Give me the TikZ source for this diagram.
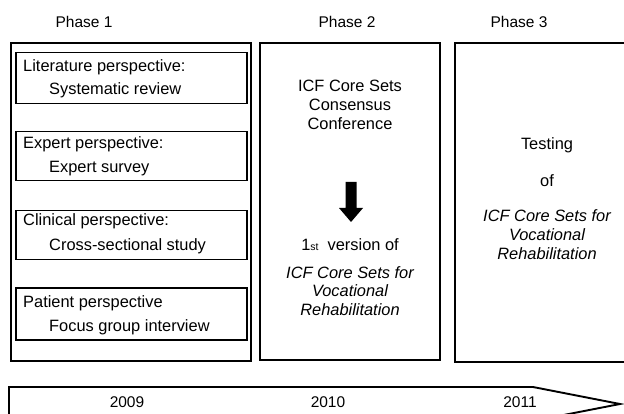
\documentclass[tikz,border=0pt]{standalone}
\usepackage{fontspec}
\setmainfont{Liberation Sans}
\begin{document}
\begin{tikzpicture}[x=1pt,y=-1pt,
  phasebox/.style={draw=black,line width=1.7pt,anchor=north west,inner sep=0pt},
  itembox/.style={draw=black,line width=1.5pt,anchor=north west,inner sep=0pt,minimum width=231pt},
  plab/.style={font=\fontsize{15.5}{18}\selectfont,anchor=base,inner sep=0pt},
  txt/.style={font=\fontsize{16.4}{19}\selectfont,anchor=base,inner sep=0pt},
  ltxt/.style={font=\fontsize{16.4}{19}\selectfont,anchor=base west,inner sep=0pt},
  itxt/.style={font=\fontsize{16.4}{19}\selectfont\itshape,anchor=base,inner sep=0pt}]
\useasboundingbox (0,0) rectangle (624,414);
\clip (0,0) rectangle (624,414);
% phase labels
\node[plab] (ph1) at (84,28) {Phase 1};
\node[plab] (ph2) at (347,28) {Phase 2};
\node[plab] (ph3) at (519,28) {Phase 3};
% phase boxes
\node[phasebox,minimum width=240pt,minimum height=318pt] (b1) at (10,42) {};
\node[phasebox,minimum width=180pt,minimum height=317pt] (b2) at (259,42) {};
\node[phasebox,minimum width=190pt,minimum height=319pt] (b3) at (454,42) {};
% phase 1 items
\node[itembox,minimum height=51pt] (i1) at (15,52) {};
\node[ltxt] (i1a) at (23,72) {Literature perspective:};
\node[ltxt] (i1b) at (49,95) {Systematic review};
\node[itembox,minimum height=49pt] (i2) at (15,131) {};
\node[ltxt] (i2a) at (23,149) {Expert perspective:};
\node[ltxt] (i2b) at (49,173) {Expert survey};
\node[itembox,minimum height=49pt] (i3) at (15,210) {};
\node[ltxt] (i3a) at (23,226) {Clinical perspective:};
\node[ltxt] (i3b) at (49,251) {Cross-sectional study};
\node[itembox,minimum height=52pt] (i4) at (15,287) {};
\node[ltxt] (i4a) at (23,307) {Patient perspective};
\node[ltxt] (i4b) at (49,331) {Focus group interview};
% phase 2
\node[txt] (c1) at (350,92) {ICF Core Sets};
\node[txt] (c2) at (350,111) {Consensus};
\node[txt] (c3) at (350,130) {Conference};
\fill[black] (345.5,182) -- (356.5,182) -- (356.5,208) -- (363,208) -- (351,222) -- (339,208) -- (345.5,208) -- cycle;
\node[txt] (v1) at (350,251) {1{\fontsize{10.5}{10}\selectfont st}\ \ version of};
\node[itxt] (v2) at (350,278) {ICF Core Sets for};
\node[itxt] (v3) at (350,297) {Vocational};
\node[itxt] (v4) at (350,316) {Rehabilitation};
% phase 3
\node[txt] (t1) at (547,150) {Testing};
\node[txt] (t2) at (547,187) {of};
\node[itxt] (t3) at (547,222) {ICF Core Sets for};
\node[itxt] (t4) at (547,241) {Vocational};
\node[itxt] (t5) at (547,260) {Rehabilitation};
% timeline arrow
\draw[line width=1.9pt,line join=miter] (9,425) -- (9,387) -- (533,387) -- (620,404) -- (533,421) -- (9,421);
\node[plab] (y1) at (127,407) {2009};
\node[plab] (y2) at (328,407) {2010};
\node[plab] (y3) at (520,407) {2011};
\end{tikzpicture}
\end{document}
